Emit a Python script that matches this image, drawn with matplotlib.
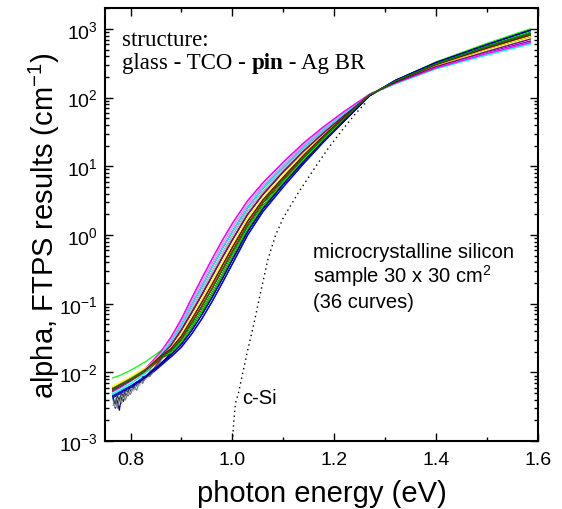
import matplotlib
matplotlib.use('Agg')
import matplotlib.pyplot as plt
from matplotlib.ticker import MultipleLocator, LogLocator, NullFormatter
import numpy as np

plt.rcParams['font.family'] = 'Liberation Sans'
plt.rcParams['axes.unicode_minus'] = False
plt.rcParams['mathtext.fontset'] = 'custom'
plt.rcParams['mathtext.rm'] = 'Liberation Sans'
plt.rcParams['mathtext.it'] = 'Liberation Sans'

# photon energy grids (eV): low-energy tail, steep edge, high-energy part
low_energy = [0.765, 0.78, 0.80, 0.83, 0.86]
mid_energy = [0.88, 0.90, 0.92, 0.94, 0.96, 0.98, 1.00, 1.03, 1.06, 1.10, 1.14, 1.18, 1.22, 1.27]
high_energy = [1.32, 1.40, 1.50, 1.585]

# log10(alpha) on the steep edge, positions across the bundle (0 = upper, 10 = lower, 11 = green)
mid_levels = [
    [-1.48, -1.22, -0.92, -0.63, -0.35, -0.08, 0.17, 0.50, 0.76, 1.06, 1.34, 1.58, 1.80, 2.05],
    [-1.51, -1.26, -0.97, -0.69, -0.41, -0.14, 0.11, 0.45, 0.72, 1.02, 1.31, 1.56, 1.79, 2.05],
    [-1.54, -1.30, -1.02, -0.75, -0.47, -0.20, 0.05, 0.40, 0.68, 0.99, 1.28, 1.54, 1.77, 2.05],
    [-1.57, -1.34, -1.08, -0.81, -0.54, -0.27, -0.01, 0.35, 0.63, 0.95, 1.25, 1.51, 1.76, 2.04],
    [-1.60, -1.38, -1.13, -0.87, -0.60, -0.33, -0.07, 0.30, 0.59, 0.92, 1.22, 1.49, 1.74, 2.04],
    [-1.63, -1.43, -1.18, -0.93, -0.66, -0.39, -0.13, 0.25, 0.55, 0.88, 1.19, 1.47, 1.73, 2.04],
    [-1.65, -1.47, -1.23, -0.98, -0.72, -0.45, -0.18, 0.20, 0.51, 0.84, 1.16, 1.45, 1.72, 2.04],
    [-1.68, -1.51, -1.28, -1.04, -0.78, -0.51, -0.24, 0.15, 0.47, 0.81, 1.13, 1.43, 1.70, 2.04],
    [-1.71, -1.55, -1.34, -1.10, -0.85, -0.58, -0.30, 0.10, 0.42, 0.77, 1.10, 1.40, 1.69, 2.03],
    [-1.74, -1.59, -1.39, -1.16, -0.91, -0.64, -0.36, 0.05, 0.38, 0.74, 1.07, 1.38, 1.67, 2.03],
    [-1.77, -1.63, -1.44, -1.22, -0.97, -0.70, -0.42, 0.00, 0.34, 0.70, 1.04, 1.36, 1.66, 2.03],
    [-1.55, -1.43, -1.30, -1.12, -0.90, -0.64, -0.36, 0.05, 0.38, 0.74, 1.07, 1.38, 1.67, 2.03],
]

# log10(alpha) above the crossing point, 11 positions (0 = lowest, 10 = highest)
high_levels = [
    [2.20, 2.42, 2.62, 2.78],
    [2.21, 2.43, 2.64, 2.80],
    [2.21, 2.44, 2.65, 2.82],
    [2.22, 2.45, 2.67, 2.85],
    [2.22, 2.46, 2.69, 2.87],
    [2.23, 2.47, 2.71, 2.89],
    [2.23, 2.48, 2.72, 2.91],
    [2.24, 2.49, 2.74, 2.93],
    [2.24, 2.50, 2.76, 2.96],
    [2.25, 2.51, 2.77, 2.98],
    [2.25, 2.52, 2.79, 3.00],
]

# the 36 curves: colour (Origin cycle), low-energy tail, edge position, high-energy position
colors = ['#000000', '#FF0000', '#00FF00', '#0000FF', '#00FFFF', '#FF00FF', '#FFFF00', '#808000',
          '#000080', '#800080', '#800000', '#008000', '#008080', '#0000A0', '#FF8000', '#8000FF',
          '#FF0080', '#FFFFFF', '#C0C0C0', '#808080', '#FFFF80', '#80FFFF', '#FF80FF', '#404040',
          '#000000', '#FF0000', '#00FF00', '#0000FF', '#00FFFF', '#FF00FF', '#FFFF00', '#808000',
          '#000080', '#800080', '#800000', '#008000']
curve_mid = [8, 7, 11, 10, 1, 0, 5, 6, 8, 4, 7, 8, 3, 9, 6, 2, 2, 5, 3, 4, 5, 1, 1, 4,
             8, 7, 8, 10, 2, 0, 5, 6, 9, 4, 6, 7]
curve_high = [7, 7, 10, 9, 0, 2, 4, 5, 8, 4, 6, 7, 2, 8, 5, 2, 1, 4, 3, 4, 4, 1, 1, 5,
              8, 7, 8, 9, 0, 1, 5, 6, 9, 3, 6, 7]
low_log = [
    [-2.22, -2.16, -2.08, -1.95, -1.77],
    [-2.24, -2.15, -2.12, -1.97, -1.78],
    [-2.08, -2.04, -1.97, -1.84, -1.68],
    [-2.37, -2.31, -2.24, -2.09, -1.90],
    None,
    [-2.28, -2.22, -2.13, -1.96, -1.70],
    [-2.20, -2.14, -2.06, -1.93, -1.74],
    [-2.22, -2.16, -2.08, -1.95, -1.76],
    None,
    [-2.25, -2.19, -2.10, -1.96, -1.75],
    [-2.24, -2.18, -2.10, -1.97, -1.77],
    [-2.26, -2.20, -2.12, -1.99, -1.80],
    [-2.30, -2.24, -2.15, -1.99, -1.76],
    [-2.34, -2.28, -2.20, -2.06, -1.86],
    [-2.24, -2.18, -2.10, -1.96, -1.76],
    [-2.27, -2.21, -2.12, -1.96, -1.72],
    [-2.27, -2.21, -2.12, -1.95, -1.71],
    [-2.24, -2.18, -2.10, -1.96, -1.75],
    None,
    None,
    [-2.20, -2.14, -2.06, -1.92, -1.73],
    [-2.30, -2.24, -2.15, -1.98, -1.73],
    [-2.26, -2.20, -2.11, -1.94, -1.70],
    None,
    [-2.24, -2.18, -2.10, -1.96, -1.78],
    [-2.25, -2.17, -2.12, -1.99, -1.79],
    [-2.24, -2.18, -2.10, -1.96, -1.77],
    [-2.33, -2.27, -2.20, -2.05, -1.87],
    [-2.32, -2.26, -2.17, -2.00, -1.75],
    [-2.26, -2.20, -2.11, -1.94, -1.69],
    [-2.21, -2.15, -2.07, -1.94, -1.75],
    [-2.23, -2.17, -2.09, -1.95, -1.76],
    [-2.35, -2.29, -2.22, -2.07, -1.88],
    [-2.26, -2.20, -2.11, -1.96, -1.75],
    [-2.24, -2.18, -2.10, -1.97, -1.77],
    [-2.25, -2.19, -2.10, -1.97, -1.78],
]

# noisy low-energy tails of some curves
noisy_energy = [0.766, 0.770, 0.774, 0.778, 0.782, 0.786, 0.790, 0.795, 0.800,
                0.806, 0.812, 0.818, 0.824, 0.830, 0.838, 0.846, 0.853, 0.860]
noisy_log = {
    4: [-2.45, -2.38, -2.46, -2.35, -2.40, -2.30, -2.33, -2.25, -2.27,
        -2.19, -2.20, -2.10, -2.08, -2.00, -1.96, -1.88, -1.82, -1.74],
    8: [-2.38, -2.52, -2.40, -2.55, -2.36, -2.42, -2.30, -2.34, -2.25,
        -2.24, -2.18, -2.14, -2.10, -2.06, -2.00, -1.96, -1.92, -1.87],
    18: [-2.42, -2.50, -2.36, -2.44, -2.32, -2.38, -2.27, -2.33, -2.22,
         -2.27, -2.15, -2.19, -2.08, -2.10, -2.02, -1.95, -1.88, -1.79],
    19: [-2.48, -2.40, -2.52, -2.38, -2.45, -2.33, -2.40, -2.28, -2.32,
         -2.20, -2.26, -2.12, -2.16, -2.05, -2.06, -1.97, -1.90, -1.82],
    23: [-2.40, -2.46, -2.34, -2.40, -2.30, -2.35, -2.26, -2.28, -2.20,
         -2.22, -2.14, -2.15, -2.06, -2.07, -1.99, -1.94, -1.87, -1.80],
}

# crystalline silicon reference (dotted)
csi_energy = [1.000, 1.003, 1.006, 1.012, 1.020, 1.030, 1.042, 1.055, 1.070, 1.085,
              1.100, 1.130, 1.164, 1.190, 1.215, 1.240, 1.265]
csi_log = [-3.0, -2.7, -2.45, -2.30, -2.02, -1.68, -1.3, -0.85, -0.35, 0.0,
           0.25, 0.62, 1.0, 1.28, 1.52, 1.75, 1.95]

fig = plt.figure(figsize=(5.62, 5.10), dpi=100)
ax = fig.add_axes([0.187, 0.133, 0.770, 0.849])

for i in range(36):
    if i in noisy_log:
        e, v = noisy_energy, noisy_log[i]
    else:
        e, v = low_energy, low_log[i]
    e = e + mid_energy + high_energy
    v = v + mid_levels[curve_mid[i]] + high_levels[curve_high[i]]
    ax.plot(e, 10 ** np.array(v), color=colors[i], lw=0.9)

ax.plot(csi_energy, 10 ** np.array(csi_log), color='black', ls=(0, (1, 2.5)), lw=1.0)

ax.set_yscale('log')
ax.set_xlim(0.75, 1.6)
ax.set_ylim(1e-3, 2e3)
ax.xaxis.set_major_locator(MultipleLocator(0.2))
ax.xaxis.set_minor_locator(MultipleLocator(0.1))
ax.yaxis.set_major_locator(LogLocator(base=10, numticks=20))
ax.yaxis.set_minor_locator(LogLocator(base=10, subs=np.arange(2, 10), numticks=20))
ax.yaxis.set_minor_formatter(NullFormatter())

ax.tick_params(which='both', direction='in', top=True, right=True, width=1.0)
ax.tick_params(which='major', length=6, labelsize=14)
ax.tick_params(which='minor', length=3)
ax.tick_params(axis='x', which='major', pad=7)
ax.tick_params(axis='y', which='major', pad=5)
for s in ax.spines.values():
    s.set_linewidth(1.5)

ax.set_xlabel('photon energy (eV)', fontsize=21, labelpad=8)
ax.set_ylabel(r'alpha, FTPS results (cm$^{\mathdefault{-1}}$)', fontsize=21, labelpad=-2)

ax.text(1.02, 10 ** -2.36, 'c-Si', fontsize=14.5, va='center')

ax.text(0.48, 0.425, 'microcrystalline silicon', transform=ax.transAxes, fontsize=14.5)
ax.text(0.48, 0.367, r'sample 30 x 30 cm$^{\mathdefault{2}}$', transform=ax.transAxes, fontsize=14.5)
ax.text(0.48, 0.309, '(36 curves)', transform=ax.transAxes, fontsize=14.5)

serif = 'Liberation Serif'
ax.text(0.039, 0.915, 'structure:', transform=ax.transAxes, family=serif, fontsize=16.5)
t1 = ax.text(0.039, 0.861, 'glass - TCO - ', transform=ax.transAxes, family=serif, fontsize=16.5)
t2 = ax.annotate('pin', xy=(1, 0), xycoords=t1, va='bottom', family=serif,
                 fontsize=16.5, fontweight='bold')
ax.annotate(' - Ag BR', xy=(1, 0), xycoords=t2, va='bottom', family=serif, fontsize=16.5)

fig.savefig('out.png', dpi=100)
